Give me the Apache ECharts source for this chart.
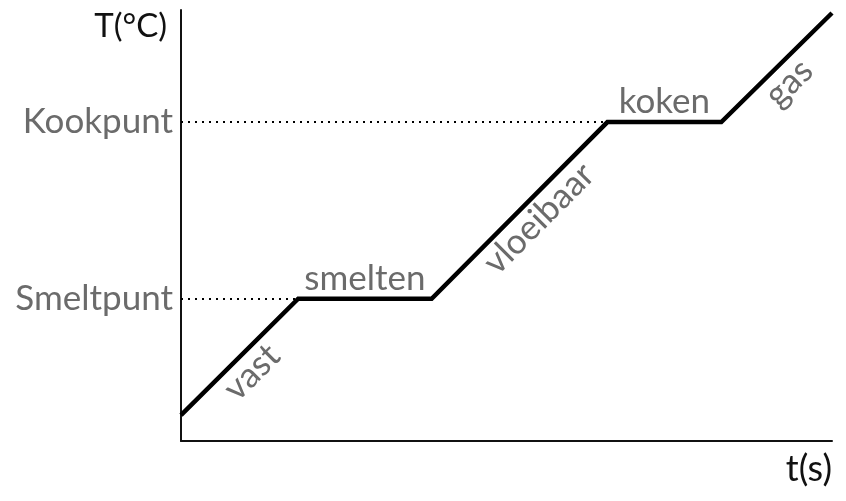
<!DOCTYPE html>
<html lang="nl">
<head>
    <meta charset="UTF-8">
    <title>Opwarmingskromme</title>
    <script src="https://cdn.jsdelivr.net/npm/echarts@6.0.0/dist/echarts.min.js"></script>
    <style>
        html, body { margin: 0; padding: 0; background: #fff; }
        #chart { width: 846px; height: 501px; }
    </style>
</head>
<body>
    <div id="chart"></div>
    <script>
        // tijd (willekeurige eenheden) en temperatuur van de kromme
        const times = [0, 18, 38.5, 65.5, 83, 100];
        const temps = [6, 33, 33, 74, 74, 99.3];
        // fase per lijnstuk
        const phases = ['vast', 'smelten', 'vloeibaar', 'koken', 'gas'];
        const phaseSide = ['insideMiddleBottom', 'insideMiddleTop', 'insideMiddleBottom', 'insideMiddleTop', 'insideMiddleBottom'];
        // ticks op de T-as
        const yTicks = [33, 74];
        const yTickLabels = ['Smeltpunt', 'Kookpunt'];

        const font = 'Lato, "Open Sans", sans-serif';
        const grey = '#6b6b6b';

        const chart = echarts.init(document.getElementById('chart'));

        const segLines = phases.map((p, i) => [
            {
                coord: [times[i], temps[i]],
                label: {
                    formatter: p,
                    position: phaseSide[i],
                    // 'vloeibaar' staat iets hoger langs de lijn
                    offset: p === 'vloeibaar' ? [10, 0] : [0, 0]
                }
            },
            { coord: [times[i + 1], temps[i + 1]] }
        ]);

        // stippellijnen van de as naar het begin van elk plateau
        const dotLines = yTicks.map(v => {
            const idx = temps.indexOf(v);
            return [{ coord: [0, v] }, { coord: [times[idx], v] }];
        });

        const option = {
            animation: false,
            grid: { left: 181, right: 14, top: 10, bottom: 60 },
            xAxis: {
                type: 'value',
                min: 0,
                max: 100,
                name: 't(s)',
                nameLocation: 'end',
                nameGap: 0,
                nameTextStyle: {
                    fontFamily: font, fontSize: 36, color: '#111',
                    align: 'right', verticalAlign: 'top', padding: [10, 0, 0, 0]
                },
                axisLine: { lineStyle: { color: '#111', width: 2 } },
                axisTick: { show: false },
                axisLabel: { show: false },
                splitLine: { show: false }
            },
            yAxis: {
                type: 'value',
                min: 0,
                max: 100,
                name: 'T(°C)',
                nameLocation: 'end',
                nameGap: 0,
                nameTextStyle: {
                    fontFamily: font, fontSize: 33, color: '#111',
                    align: 'right', verticalAlign: 'top', padding: [0, 14, 0, 0]
                },
                axisLine: { show: true, lineStyle: { color: '#111', width: 2 } },
                axisTick: { show: false },
                splitLine: { show: false },
                axisLabel: {
                    customValues: yTicks,
                    formatter: v => yTickLabels[yTicks.indexOf(v)] || '',
                    fontFamily: font, fontSize: 35, color: grey, margin: 8
                }
            },
            series: [
                {
                    type: 'line',
                    data: times.map((t, i) => [t, temps[i]]),
                    symbol: 'none',
                    lineStyle: { color: '#000', width: 4.5, join: 'miter' },
                    markLine: {
                        silent: true,
                        symbol: ['none', 'none'],
                        lineStyle: { color: 'rgba(0,0,0,0)', width: 1 },
                        label: {
                            show: true,
                            fontFamily: font, fontSize: 35, color: grey,
                            distance: 3
                        },
                        data: segLines
                    },
                    z: 3
                },
                {
                    type: 'line',
                    data: [],
                    markLine: {
                        silent: true,
                        symbol: ['none', 'none'],
                        label: { show: false },
                        lineStyle: { color: '#000', type: [2, 5], width: 2 },
                        data: dotLines
                    }
                }
            ]
        };

        chart.setOption(option);
    </script>
</body>
</html>
